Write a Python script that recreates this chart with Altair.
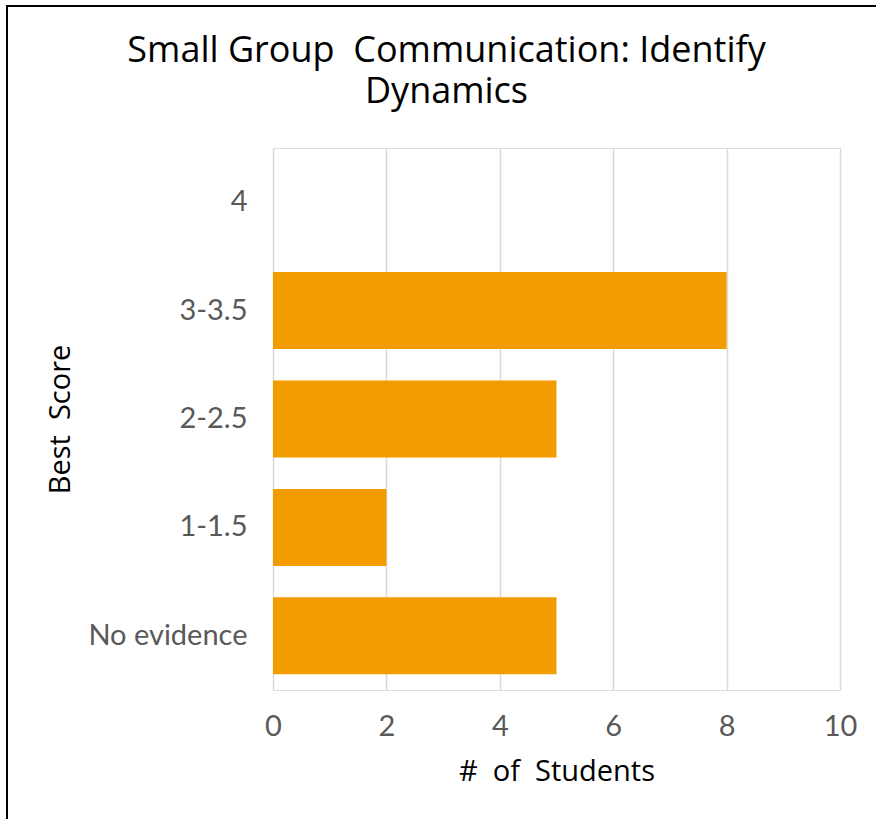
import altair as alt
import pandas as pd

# Best-score bands and how many students landed in each
categories = ["4", "3-3.5", "2-2.5", "1-1.5", "No evidence"]
students = [0, 8, 5, 2, 5]

df = pd.DataFrame({"score": categories, "count": students})

LABEL_FONT = "Lato"
TITLE_FONT = "Open Sans"
BAR = "#F39C00"
NBSP = "\u00a0"

bars = alt.Chart(df).mark_bar(color=BAR).encode(
    y=alt.Y(
        "score:N",
        sort=categories,
        scale=alt.Scale(paddingInner=0.29, paddingOuter=0.145),
        axis=alt.Axis(
            title=f"Best{NBSP}{NBSP}Score",
            titleFont=TITLE_FONT,
            titleFontSize=29,
            titleFontWeight="normal",
            titleColor="#000000",
            titlePadding=12,
            labelFont=LABEL_FONT,
            labelFontSize=29,
            labelColor="#595959",
            labelPadding=26,
            ticks=False,
            domain=False,
            grid=False,
        ),
    ),
    x=alt.X(
        "count:Q",
        scale=alt.Scale(domain=[0, 10], nice=False),
        axis=alt.Axis(
            title=f"#{NBSP}{NBSP}of{NBSP}{NBSP}Students",
            titleFont=TITLE_FONT,
            titleFontSize=29,
            titleFontWeight="normal",
            titleColor="#000000",
            titlePadding=16,
            labelFont=LABEL_FONT,
            labelFontSize=29,
            labelColor="#595959",
            labelPadding=22,
            labelFlush=False,
            values=[0, 2, 4, 6, 8, 10],
            ticks=False,
            domain=False,
            grid=True,
            gridColor="#D9D9D9",
            gridWidth=1.5,
        ),
    ),
)

# Outer frame around the whole chart area
frame = alt.Chart(pd.DataFrame({"k": [0]})).mark_rect(
    fill=None, stroke="#000000", strokeWidth=2
).encode(
    x=alt.value(-266),
    x2=alt.value(620),
    y=alt.value(-142),
    y2=alt.value(700),
)

chart = (
    alt.layer(frame, bars)
    .properties(
        width=567,
        height=542,
        title=alt.TitleParams(
            text=[f"Small Group{NBSP}{NBSP}Communication: Identify", "Dynamics"],
            font=TITLE_FONT,
            fontSize=36,
            fontWeight="normal",
            color="#000000",
            anchor="middle",
            dx=-110,
            dy=106,
            offset=0,
            lineHeight=41,
        ),
        autosize=alt.AutoSizeParams(type="none"),
        padding={"left": 273, "top": 148, "right": 36, "bottom": 129},
    )
    .configure_view(stroke=None)
    .configure(background="#FFFFFF")
)

chart.save("out.html", embed_options={"renderer": "svg", "actions": False})
